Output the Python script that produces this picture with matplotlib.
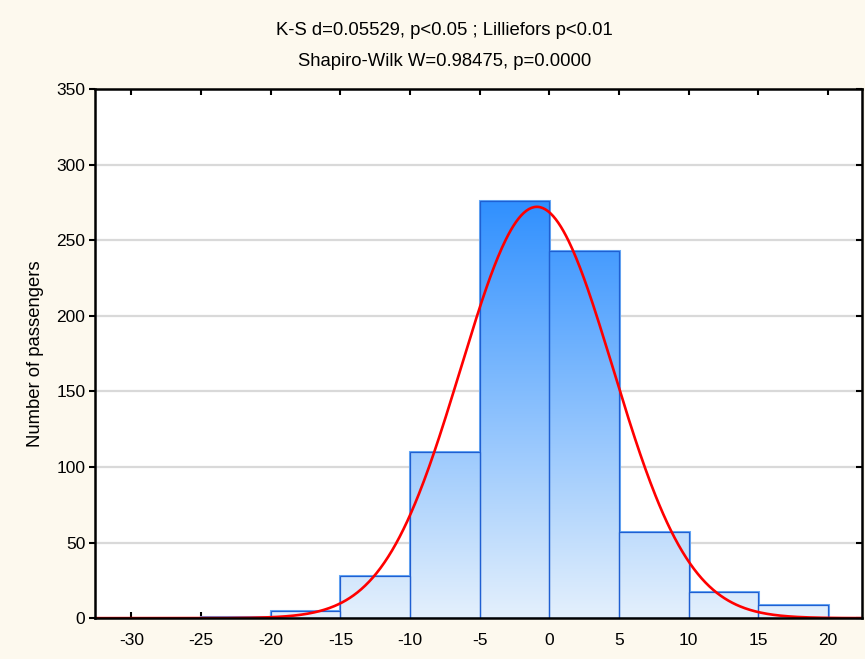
import matplotlib.pyplot as plt
import numpy as np
from matplotlib.colors import LinearSegmentedColormap

plt.rcParams['font.family'] = ['Liberation Sans', 'DejaVu Sans']
plt.rcParams['axes.unicode_minus'] = False

# histogram of residuals, bins of width 5
bin_edges = [-25, -20, -15, -10, -5, 0, 5, 10, 15, 20]
counts = [1, 5, 28, 110, 276, 243, 57, 17, 9]

# fitted normal curve
fit_mean = -0.9
fit_sd = 5.47

title_lines = ['K-S d=0.05529, p<0.05 ; Lilliefors p<0.01',
               'Shapiro-Wilk W=0.98475, p=0.0000']
y_label = 'Number of passengers'
x_ticks = [-30, -25, -20, -15, -10, -5, 0, 5, 10, 15, 20]
y_ticks = [0, 50, 100, 150, 200, 250, 300, 350]

fig = plt.figure(figsize=(8.65, 6.59), dpi=100)
fig.patch.set_facecolor('#fdf9ee')
ax = fig.add_axes([0.110, 0.062, 0.886, 0.803])
ax.set_facecolor('white')

xmin, xmax = -32.6, 22.4
ax.set_xlim(xmin, xmax)
ax.set_ylim(0, 350)

for y in y_ticks[1:-1]:
    ax.axhline(y, color='#d9d9d9', lw=1.6, zorder=1)

cmap = LinearSegmentedColormap.from_list('bars', ['#e4f0fc', '#3090ff'])
top = max(counts)
grad = np.linspace(0, 1, 256).reshape(-1, 1)

for i, c in enumerate(counts):
    left, right = bin_edges[i], bin_edges[i + 1]
    # light outer border, dark inner outline
    outer = plt.Rectangle((left, 0), right - left, c, fill=False,
                          ec='#6aaaf5', lw=2.2, zorder=2)
    ax.add_patch(outer)
    rect = plt.Rectangle((left, 0), right - left, c, fill=False,
                         ec='#1f5fd2', lw=0.9, zorder=4)
    ax.add_patch(rect)
    im = ax.imshow(grad, cmap=cmap, origin='lower', aspect='auto',
                   extent=[left, right, 0, top], zorder=3)
    im.set_clip_path(rect)

xs = np.linspace(xmin, xmax, 600)
width = bin_edges[1] - bin_edges[0]
ys = sum(counts) * width / (fit_sd * np.sqrt(2 * np.pi)) * \
    np.exp(-0.5 * ((xs - fit_mean) / fit_sd) ** 2)
ax.plot(xs, ys, color='#ff0000', lw=1.9, zorder=5)

ax.set_xticks(x_ticks)
ax.set_yticks(y_ticks)
ax.tick_params(axis='x', direction='in', top=True, length=4, width=1.5,
               labelsize=12.5, pad=11)
ax.tick_params(axis='y', direction='out', length=4, width=1.5,
               labelsize=12.5, pad=3)
ax.tick_params(axis='y', which='both', right=True)
for t in ax.yaxis.get_ticklines()[1::2]:
    t.set_marker(0)  # right ticks point inward
for sp in ax.spines.values():
    sp.set_linewidth(1.8)
    sp.set_zorder(6)

ax.set_ylabel(y_label, fontsize=13.3, labelpad=9)

fig.text(0.514, 0.953, title_lines[0], ha='center', va='center', fontsize=13.3)
fig.text(0.514, 0.906, title_lines[1], ha='center', va='center', fontsize=13.3)

fig.savefig('out.png', dpi=100, facecolor=fig.get_facecolor())
